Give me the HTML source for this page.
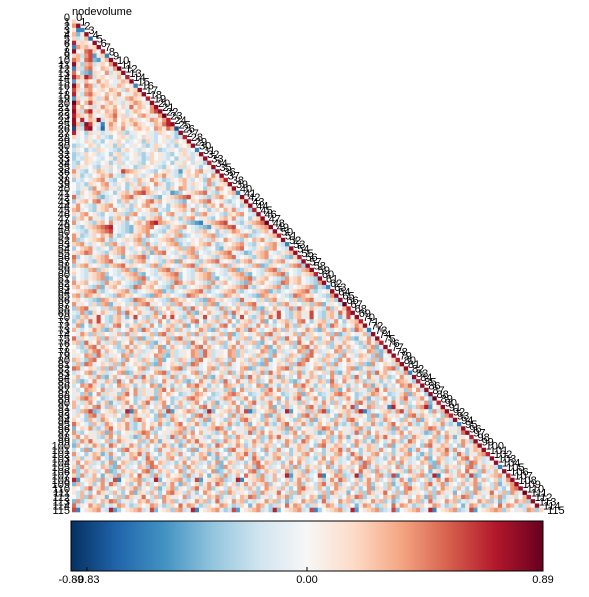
<!DOCTYPE html>
<html><head><meta charset="utf-8"><style>
html,body{margin:0;padding:0;background:#fff;}
svg text{font-family:"Liberation Sans","DejaVu Sans",sans-serif;}
</style></head><body>
<svg id="chart" width="589" height="592" xmlns="http://www.w3.org/2000/svg">
<text x="72" y="15" font-size="11">nodevolume</text>
<g id="cells"></g>
<g id="ylabels"></g>
<g id="dlabels"></g>
<defs><linearGradient id="cbg" x1="0" x2="1" y1="0" y2="0"></linearGradient></defs>
<rect x="71" y="521" width="472" height="50" fill="url(#cbg)" stroke="#000" stroke-width="1"/>
<g id="cbticks"></g>
</svg>
<script>
const nodeCount = 116;
const vmin = -0.89, vmax = 0.89;
const cbTickValues = [-0.89, -0.83, 0.00, 0.89];
const cbTickLabels = ["-0.89", "-0.83", "0.00", "0.89"];
// Sub-diagonal cells (row r, column r-1), r = 1..115
const adjacentCodes = "LRDRCRRQDRRSRQRDRRQRRRSQRBRQRRDRRQRRRQRRDRRRQRRSRRQRDRRQRRRQRRDRRRSQRRQRDRRQRRRQRRDRQRRRSQRRQRDRRQRRRQRRDRQRRRSQRR";
// Lower-triangle values read row by row (row 1..115, columns 0..r-1), letter A=-0.89 ... J=0 ... S=0.89
const cellCodes = [
"LNMKDLMFKRLHIMKQKLKJJDNLMKLIRJKOPLJLLMHNPEKLNOMIOPFEKMLRKGMNHKLJNLDLHNOKJMLINLOJGFELKJNHKLMQNLQOHKLJKIMJN",
"EKIMJKNKLJIKMLKRMJONHKMLKIMLJKNPLIMNJKLJMLKHMKLJQKHNOLKJMKLNJIKMLNELIKMKHLNJLIKMNLKJLSNJMPLKJLMKIHKLNMKIO",
"QKMJLHKNLKMJLIOKMLJNKRLHOQKLJMLNKJHKMLJKNPRQMLKNIJKLMOKLHKJMNLIKNPRKQIMLRHKLNJLKMLIJKNMKNPRMGRPKIDKNLJMKL",
"NLKJIMLOQNBLHQRJHCKMLKNIJLMKLJNMKOMLQKJGLIKHIKJLHGIKJJKIHLKJIGKLIJHKJLIHGJKLKHIJLKIHJKLIGHKJIJLKHIGJKILJ",
"HIJKGLIHJKIHLJKIGHIJLKHJIKGLHJIKJHGILKJHIGKJLIHKJGIHLKJIHGKLJIHKJILGHIKJHLIJKGHILJKHIJGKLHIJKHGILJKIHGJK",
"LIHKJGIHLKJIHJKGLIHJKIGHLJKIHJGKILHJKIHGJLKIHJKGILHJIKHGJLKIHJGKILJHKIGJHLKIJHGKILJHKIJGHLKJIHGKJILHKJIG",
"JKLNIHGJKMLIHJKPNMLKJIHGJKLIHEKLJMNKIHJLKGIHJKMLNIHGKJLIHKJMLNKIHGJLKMIHJNKLGIHJKLMNIHGJKLIHMKJNLIGHKJLM",
"IHJKGNLIMKJHIGLKJMNIHKJGLIMHKJNLIGHJKMILKJHNGIKLMJHIKGNJLMIKHJGILKNMJHIKGLJNMIHKJGLINMJKHIGLJKMNHIJGKLMI",
"NOPMLKJHIEFGJKLMNOIHGKJLMNOHIJKLGFHIJKMNOLKJIHGFJKLMNOPKJIHGLMNKJHIFGKLMJNOIHKJGLMIHJKNOLMJKIHGFJLKMNOIJ",
"KHGIJLMKNJIHGKLMNJIHKGLJMNKIHJGKLMNIJHKGLMJNIKHJGLKMNIJHGKLMINJKHGILJKMNIHGJKLMINHJKGILJMKNHIJGKLIMNJKHG",
"JIKLHGMNJIKHLGJMNIKHJLGMNKIJHGLKMNJIHKGLMJNIKHJGLMKNIJHGKLMNIJHKGLMNJIKHGJLMKNIHJGKLMNIJKHGLMJNIKHGJLMKN",
"PQNMLKJIHGFEDKLMNOPJIHGKLMNOJIHGKLMNOPQJIHGFKLMNOJIHGKLMNJIHGFEKLMNOPJIHGKLMNOJIHGKLMNOPJIHGFKLMNJIHGKLM",
"GIJKHLMIJGKHLNMIJKGHLMIJNKGHILJMKNIGHJKLMINGHJKLIMNGHJIKLMNGHIJKLMNGHIJKLMINGHJKLMNIGHJKLIMNGHJIKLMNGHIJ",
"KJLIHMKJNLIHGKJMLNIHKJGLMNIHKJLGMNIHKJLMGNIHKJLMNGIHKJLMNIGHKJLMNIHGKJLMNIHKGJLMNIHKJGLMNIHKJLGMNIHKJLMG",
"MNLKHIJGFKLMNOJIHKLGMNJIHFKLMONJIHGKLMNJIHKGLFMNOJIHKLMNGJIHKLMNOJIHFGKLMNJIHKLMNOGJIHKLMNJIHFKLMNOGJIHK",
"IJKHGLMNIJKHGLMNOIJKHGLMNIJKHGFLMNIJKHGLMNOIJKHGLMNIJKHGLMFNIJKHGLMNOIJKHGLMNIJKHGLMNIJKHFGLMNIJKHGLMNOI",
"LKJIHMNGLKJIHMNOGLKJIHMNGLKJIHMNFGLKJIHMNOGLKJIHMNGLKJIHMNGFLKJIHMNOGLKJIHMNGLKJIHMNFGLKJIHMNOGLKJIHMNGL",
"JIHKLMNGJIHKLMNGFJIHKLMNOGJIHKLMNGJIHKLMNGFJIHKLMNOGJIHKLMNGJIHKLMNFGJIHKLMNOGJIHKLMNGJIHKLMNGFJIHKLMNOG",
"KLMJIHGNKLMJIHGONKLMJIHGNKLMJIHGFNKLMJIHGONKLMJIHGNKLMJIHGFNKLMJIHGONKLMJIHGNKLMJIHGNFKLMJIHGONKLMJIHGNK",
"HGIJKLMNHGIJKLMNOHGIJKLMNHGIJKLMNFHGIJKLMNOHGIJKLMNHGIJKLMNFHGIJKLMNOHGIJKLMNHGIJKLMNFHGIJKLMNOHGIJKLMNH",
"NMKLJIHGNMKLJIHGFNMKLJIHGONMKLJIHGNMKLJIHGFNMKLJIHGONMKLJIHGNMKLJIHGFNMKLJIHGONMKLJIHGNMKLJIHGFNMKLJIHGO",
"IKJHLGMNIKJHLGMNOIKJHLGMNIKJHLGMNFIKJHLGMNOIKJHLGMNIKJHLGMNFIKJHLGMNOIKJHLGMNIKJHLGMNFIKJHLGMNOIKJHLGMNI",
"LJMKIHNGLJMKIHNGOLJMKIHNGLJMKIHNGFLJMKIHNGOLJMKIHNGLJMKIHNGFLJMKIHNGOLJMKIHNGLJMKIHNGFLJMKIHNGOLJMKIHNGL",
"KPJHGLMIKPJHGLMIOKPJHGLMIKPJHGLMIFKPJHGLMIOKPJHGLMIKPJHGLMIFKPJHGLMIOKPJHGLMIKPJHGLMIFKPJHGLMIOKPJHGLMIK",
"JGKLMHINJGKLMHINOJGKLMHINJGKLMHINFJGKLMHINOJGKLMHINJGKLMHINFJGKLMHINOJGKLMHINJGKLMHINFJGKLMHINOJGKLMHINJ",
"MIHJKNLGMIHJKNLGOMIHJKNLGMIHJKNLGFMIHJKNLGOMIHJKNLGMIHJKNLGFMIHJKNLGOMIHJKNLGMIHJKNLGFMIHJKNLGOMIHJKNLGM",
"HLJIKMGNHLJIKMGNOHLJIKMGNHLJIKMGNFHLJIKMGNOHLJIKMGNHLJIKMGNFHLJIKMGNOHLJIKMGNHLJIKMGNFHLJIKMGNOHLJIKMGNH",
"KJNIHLMGKJNIHLMGOKJNIHLMGKJNIHLMGFKJNIHLMGOKJNIHLMGKJNIHLMGFKJNIHLMGOKJNIHLMGKJNIHLMGFKJNIHLMGOKJNIHLMGK",
"IMKJHGLNIMKJHGLNOIMKJHGLNIMKJHGLNFIMKJHGLNOIMKJHGLNIMKJHGLNFIMKJHGLNOIMKJHGLNIMKJHGLNFIMKJHGLNOIMKJHGLNI",
"LHIKJNMGLHIKJNMGOLHIKJNMGLHIKJNMGFLHIKJNMGOLHIKJNMGLHIKJNMGFLHIKJNMGOLHIKJNMGLHIKJNMGFLHIKJNMGOLHIKJNMGL",
"JKHMLIGNJKHMLIGNOJKHMLIGNJKHMLIGNFJKHMLIGNOJKHMLIGNJKHMLIGNFJKHMLIGNOJKHMLIGNJKHMLIGNFJKHMLIGNOJKHMLIGNJ",
"NIJLKHMGNIJLKHMGONIJLKHMGNIJLKHMGFNIJLKHMGONIJLKHMGNIJLKHMGFNIJLKHMGONIJLKHMGNIJLKHMGFNIJLKHMGONIJLKHMGN",
"GKLHIJMNGKLHIJMNOGKLHIJMNGKLHIJMNFGKLHIJMNOGKLHIJMNGKLHIJMNFGKLHIJMNOGKLHIJMNGKLHIJMNFGKLHIJMNOGKLHIJMNG",
"KMIJLHNGKMIJLHNGOKMIJLHNGKMIJLHNGFKMIJLHNGOKMIJLHNGKMIJLHNGFKMIJLHNGOKMIJLHNGKMIJLHNGFKMIJLHNGOKMIJLHNGK",
"HJNKIMLGHJNKIMLGOHJNKIMLGHJNKIMLGFHJNKIMLGOHJNKIMLGHJNKIMLGFHJNKIMLGOHJNKIMLGHJNKIMLGFHJNKIMLGOHJNKIMLGH",
"LIGKHJNMLIGKHJNMOLIGKHJNMLIGKHJNMFLIGKHJNMOLIGKHJNMLIGKHJNMFLIGKHJNMOLIGKHJNMLIGKHJNMFLIGKHJNMOLIGKHJNML",
"JNHLIKGMJNHLIKGMOJNHLIKGMJNHLIKGMFJNHLIKGMOJNHLIKGMJNHLIKGMFJNHLIKGMOJNHLIKGMJNHLIKGMFJNHLIKGMOJNHLIKGMJ",
"MKJGHILNMKJGHILNOMKJGHILNMKJGHILNFMKJGHILNOMKJGHILNMKJGHILNFMKJGHILNOMKJGHILNMKJGHILNFMKJGHILNOMKJGHILNM",
"IHLNJGKMIHLNJGKMOIHLNJGKMIHLNJGKMFIHLNJGKMOIHLNJGKMIHLNJGKMFIHLNJGKMOIHLNJGKMIHLNJGKMFIHLNJGKMOIHLNJGKMI",
"KGMHJLINKGMHJLINOKGMHJLINKGMHJLINFKGMHJLINOKGMHJLINKGMHJLINFKGMHJLINOKGMHJLINKGMHJLINFKGMHJLINOKGMHJLINK",
"PFJKNMHLIDQKJLGHMNQEJKLIHMNPFGJKLMHIQDNJLKGIMHPEKJLNMHIGQFJKLMHNIPDGKJLMNHIQEJKLGMHNPFIJKLMHNQDGIJKLMHNP",
"HMKILJGNHMKILJGNOHMKILJGNHMKILJGNFHMKILJGNOHMKILJGNHMKILJGNFHMKILJGNOHMKILJGNHMKILJGNFHMKILJGNOHMKILJGNH",
"LJIGMKHNLJIGMKHNOLJIGMKHNLJIGMKHNFLJIGMKHNOLJIGMKHNLJIGMKHNFLJIGMKHNOLJIGMKHNLJIGMKHNFLJIGMKHNOLJIGMKHNL",
"JLKNHGIMJLKNHGIMOJLKNHGIMJLKNHGIMFJLKNHGIMOJLKNHGIMJLKNHGIMFJLKNHGIMOJLKNHGIMJLKNHGIMFJLKNHGIMOJLKNHGIMJ",
"NHGJKILMNHGJKILMONHGJKILMNHGJKILMFNHGJKILMONHGJKILMNHGJKILMFNHGJKILMONHGJKILMNHGJKILMFNHGJKILMONHGJKILMN",
"GLNJMIKHGLNJMIKHOGLNJMIKHGLNJMIKHFGLNJMIKHOGLNJMIKHGLNJMIKHFGLNJMIKHOGLNJMIKHGLNJMIKHFGLNJMIKHOGLNJMIKHG",
"KIJMGHNLKIJMGHNLOKIJMGHNLKIJMGHNLFKIJMGHNLOKIJMGHNLKIJMGHNLFKIJMGHNLOKIJMGHNLKIJMGHNLFKIJMGHNLOKIJMGHNLK",
"MJHKNLGIMJHKNLGIOMJHKNLGIMJHKNLGIFMJHKNLGIOMJHKNLGIMJHKNLGIFMJHKNLGIOMJHKNLGIMJHKNLGIFMJHKNLGIOMJHKNLGIM",
"IKMLHJGNIKMLHJGNOIKMLHJGNIKMLHJGNFIKMLHJGNOIKMLHJGNIKMLHJGNFIKMLHJGNOIKMLHJGNIKMLHJGNFIKMLHJGNOIKMLHJGNI",
"HNIJGKMLHNIJGKMLOHNIJGKMLHNIJGKMLFHNIJGKMLOHNIJGKMLHNIJGKMLFHNIJGKMLOHNIJGKMLHNIJGKMLFHNIJGKMLOHNIJGKMLH",
"LGKIMNJHLGKIMNJHOLGKIMNJHLGKIMNJHFLGKIMNJHOLGKIMNJHLGKIMNJHFLGKIMNJHOLGKIMNJHLGKIMNJHFLGKIMNJHOLGKIMNJHL",
"JMLHIGKNJMLHIGKNOJMLHIGKNJMLHIGKNFJMLHIGKNOJMLHIGKNJMLHIGKNFJMLHIGKNOJMLHIGKNJMLHIGKNFJMLHIGKNOJMLHIGKNJ",
"NKHIJMLGNKHIJMLGONKHIJMLGNKHIJMLGFNKHIJMLGONKHIJMLGNKHIJMLGFNKHIJMLGONKHIJMLGNKHIJMLGFNKHIJMLGONKHIJMLGN",
"GIMKLHJNGIMKLHJNOGIMKLHJNGIMKLHJNFGIMKLHJNOGIMKLHJNGIMKLHJNFGIMKLHJNOGIMKLHJNGIMKLHJNFGIMKLHJNOGIMKLHJNG",
"KLGNHIMJKLGNHIMJOKLGNHIMJKLGNHIMJFKLGNHIMJOKLGNHIMJKLGNHIMJFKLGNHIMJOKLGNHIMJKLGNHIMJFKLGNHIMJOKLGNHIMJK",
"QEKLMHIJPDJKNMGHIQFLKJMNHGPEIJKLMNGHQDJKLIMNHPFGJKLMNIHQEJKLMGNHIPDJKLMNGHIQFJKLMNHGIPEJKLMNGHIQDJKLMNHI",
"MHJLGKNIMHJLGKNIOMHJLGKNIMHJLGKNIFMHJLGKNIOMHJLGKNIMHJLGKNIFMHJLGKNIOMHJLGKNIMHJLGKNIFMHJLGKNIOMHJLGKNIM",
"ILNGKJHMILNGKJHMOILNGKJHMILNGKJHMFILNGKJHMOILNGKJHMILNGKJHMFILNGKJHMOILNGKJHMILNGKJHMFILNGKJHMOILNGKJHMI",
"LKHMIGJNLKHMIGJNOLKHMIGJNLKHMIGJNFLKHMIGJNOLKHMIGJNLKHMIGJNFLKHMIGJNOLKHMIGJNLKHMIGJNFLKHMIGJNOLKHMIGJNL",
"JHMGNLIKJHMGNLIKOJHMGNLIKJHMGNLIKFJHMGNLIKOJHMGNLIKJHMGNLIKFJHMGNLIKOJHMGNLIKJHMGNLIKFJHMGNLIKOJHMGNLIKJ",
"NGIKHJMLNGIKHJMLONGIKHJMLNGIKHJMLFNGIKHJMLONGIKHJMLNGIKHJMLFNGIKHJMLONGIKHJMLNGIKHJMLFNGIKHJMLONGIKHJMLN",
"HKJNLMGIHKJNLMGIOHKJNLMGIHKJNLMGIFHKJNLMGIOHKJNLMGIHKJNLMGIFHKJNLMGIOHKJNLMGIHKJNLMGIFHKJNLMGIOHKJNLMGIH",
"KNMIGHLJKNMIGHLJOKNMIGHLJKNMIGHLJFKNMIGHLJOKNMIGHLJKNMIGHLJFKNMIGHLJOKNMIGHLJKNMIGHLJFKNMIGHLJOKNMIGHLJK",
"PDJKLMNIHQEGJKLMNHIPFJKLGMNHIQDJKLMNIGHPEJKLMNHIGQFJKLMNHIPDGJKLMNHIQEJKLMNGHIPFJKLMNHIQDJKLMNGHIPEJKLMN",
"MGLJIKHNMGLJIKHNOMGLJIKHNMGLJIKHNFMGLJIKHNOMGLJIKHNMGLJIKHNFMGLJIKHNOMGLJIKHNMGLJIKHNFMGLJIKHNOMGLJIKHNM",
"ILKHMNGJILKHMNGJOILKHMNGJILKHMNGJFILKHMNGJOILKHMNGJILKHMNGJFILKHMNGJOILKHMNGJILKHMNGJFILKHMNGJOILKHMNGJI"
].join("");
const stops=[[-1,[5,48,97]],[-0.8,[33,102,172]],[-0.6,[67,147,195]],[-0.4,[146,197,222]],[-0.2,[209,229,240]],[0,[247,247,247]],[0.2,[253,219,199]],[0.4,[244,165,130]],[0.6,[214,96,77]],[0.8,[178,24,43]],[1,[103,0,31]]];
function color(v){let t=Math.max(-1,Math.min(1,v/vmax));for(let i=0;i<stops.length-1;i++){const a=stops[i],b=stops[i+1];if(t<=b[0]){const f=(t-a[0])/(b[0]-a[0]);const c=a[1].map((x,k)=>Math.round(x+(b[1][k]-x)*f));return `rgb(${c[0]},${c[1]},${c[2]})`;}}return 'rgb(103,0,31)';}
function decode(ch){return (ch.charCodeAt(0)-74)/9*vmax;}
const X0=72,Y0=15,CW=471/115,CH=497/116;
const xPos=c=>X0+c*CW, yPos=r=>Y0+r*CH;
const NS="http://www.w3.org/2000/svg";
const cells=document.getElementById('cells');
let idx=0;
for(let r=1;r<nodeCount;r++){for(let c=0;c<r;c++){let ch=cellCodes[idx++]||'J';
if(c===r-1&&adjacentCodes[r-1])ch=adjacentCodes[r-1];
const rc=document.createElementNS(NS,'rect');


rc.setAttribute('x',xPos(c));rc.setAttribute('y',yPos(r));rc.setAttribute('width',CW+0.3);rc.setAttribute('height',CH+0.3);rc.setAttribute('fill',color(decode(ch)));cells.appendChild(rc);}}
const yl=document.getElementById('ylabels'),dl=document.getElementById('dlabels');
for(let i=0;i<nodeCount;i++){
const t=document.createElementNS(NS,'text');


t.setAttribute('x',70);t.setAttribute('y',yPos(i)+CH/2+4);t.setAttribute('font-size','11');t.setAttribute('text-anchor','end');t.textContent=i;yl.appendChild(t);
const d=document.createElementNS(NS,'text');


d.setAttribute('x',xPos(i)+CW);d.setAttribute('y',yPos(i)+CH/2+4);d.setAttribute('font-size','11');d.textContent=i;dl.appendChild(d);}
const g=document.getElementById('cbg');
for(let k=0;k<=20;k++){const v=vmin+(vmax-vmin)*k/20;const st=document.createElementNS(NS,'stop');st.setAttribute('offset',(k/20));st.setAttribute('stop-color',color(v));g.appendChild(st);}
const cbt=document.getElementById('cbticks');
const cbX=v=>71+(v-vmin)/(vmax-vmin)*472;
cbTickValues.forEach((v,i)=>{
const l=document.createElementNS(NS,'line');


l.setAttribute('x1',cbX(v));l.setAttribute('x2',cbX(v));l.setAttribute('y1',571);l.setAttribute('y2',567);l.setAttribute('stroke','#000');cbt.appendChild(l);
const t=document.createElementNS(NS,'text');


t.setAttribute('x',cbX(v));t.setAttribute('y',583);t.setAttribute('font-size','11');t.setAttribute('text-anchor','middle');t.textContent=cbTickLabels[i];cbt.appendChild(t);});
</script>
</body></html>
